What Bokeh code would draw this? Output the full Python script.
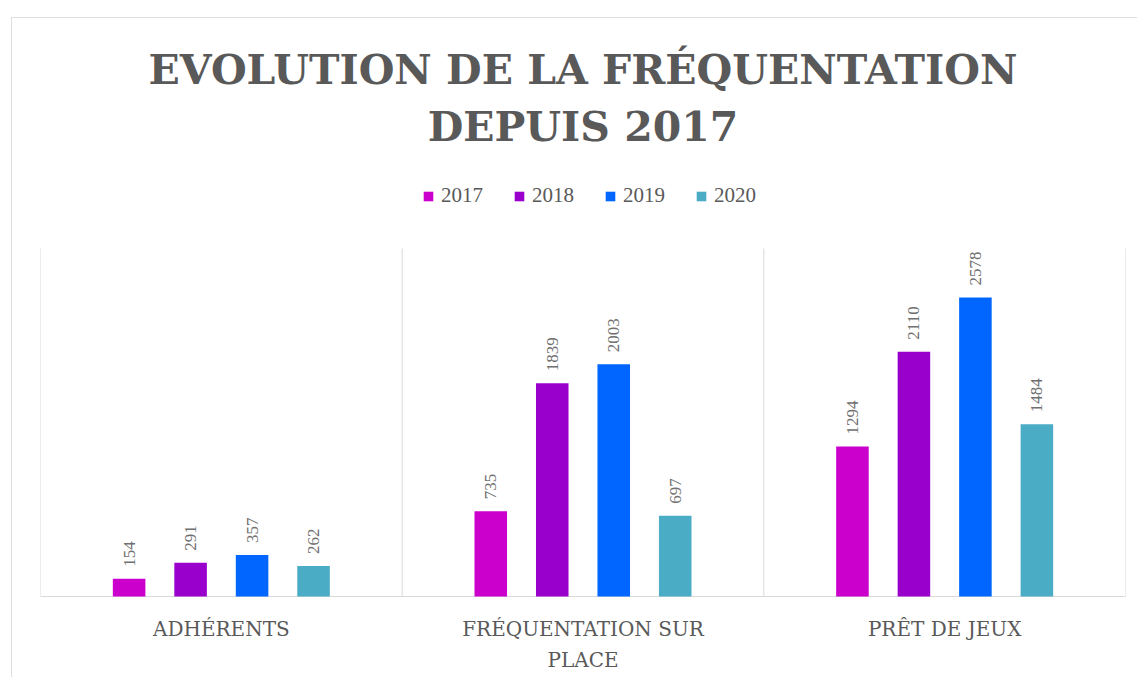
from math import pi
from bokeh.plotting import figure
from bokeh.models import (ColumnDataSource, FactorRange, Range1d, LabelSet, Label,
                          Legend, LegendItem)
from bokeh.transform import dodge
from bokeh.core.properties import value
from bokeh.embed import file_html
from bokeh.resources import INLINE

categories = ["ADHÉRENTS", "FRÉQUENTATION SUR PLACE", "PRÊT DE JEUX"]
category_labels = ["ADHÉRENTS", "FRÉQUENTATION SUR\nPLACE", "PRÊT DE JEUX"]
years = ["2017", "2018", "2019", "2020"]
v2017 = [154, 735, 1294]
v2018 = [291, 1839, 2110]
v2019 = [357, 2003, 2578]
v2020 = [262, 697, 1484]
colors = ["#CC00CC", "#9900CC", "#0066FF", "#4BACC6"]
title_lines = ["EVOLUTION DE LA FRÉQUENTATION", "DEPUIS 2017"]

Y_MAX = 3000  # value at the top of the bar area

series = [v2017, v2018, v2019, v2020]
src = ColumnDataSource(data=dict(
    cat=categories,
    label=category_labels,
    zero=[0] * len(categories),
    **{f"y{y}": s for y, s in zip(years, series)},
    **{f"t{y}": [str(v) for v in s] for y, s in zip(years, series)},
))

GRAY = "#595959"
LINE = "#d9d9d9"

# layout (pixels inside the canvas)
W, H = 1126, 660
FRAME_L, FRAME_R = 28, 13
BASE_PX = 578          # baseline distance from canvas top
BAR_PX = 348           # height of the bar area (0..Y_MAX)
ppu = BAR_PX / Y_MAX
y_end = BASE_PX / ppu
y_start = -(H - BASE_PX) / ppu

p = figure(x_range=FactorRange(factors=categories, range_padding=0),
           y_range=Range1d(y_start, y_end),
           width=W, height=H,
           min_border=0, min_border_left=FRAME_L, min_border_right=FRAME_R,
           x_axis_location=None, y_axis_location=None, title_location=None,
           output_backend="svg", toolbar_location=None,
           margin=(17, 0, 0, 11))
p.styles = {"border-left": "1px solid #dedede", "border-top": "1px solid #dedede"}

p.outline_line_color = None
p.grid.grid_line_color = None
p.background_fill_color = "white"
p.border_fill_color = "white"

n = len(categories)
# category separators and baseline
p.segment(x0=list(range(n + 1)), y0=[0] * (n + 1), x1=list(range(n + 1)),
          y1=[Y_MAX] * (n + 1), line_color=LINE, line_width=1)
p.segment(x0=[0], y0=[0], x1=[n], y1=[0], line_color=LINE, line_width=1.2)

offsets = [-0.255, -0.085, 0.085, 0.255]
items = []
for y, off, c in zip(years, offsets, colors):
    r = p.vbar(x=dodge("cat", off, range=p.x_range), top=f"y{y}", width=0.09,
               source=src, fill_color=c, line_color=None)
    items.append(LegendItem(label=y, renderers=[r]))
    p.add_layout(LabelSet(x=dodge("cat", off, range=p.x_range), y=f"y{y}", text=f"t{y}",
                          source=src, angle=pi / 2, text_align="left",
                          text_baseline="middle", y_offset=12,
                          text_font=value("Liberation Serif"), text_font_size="17px",
                          text_color="#707070"))

# category labels
p.text(x="cat", y="zero", text="label", source=src, text_align="center",
       text_baseline="top", y_offset=20, text_font=value("DejaVu Serif"),
       text_font_size="20px", text_color=GRAY, text_line_height=1.3)

legend = Legend(items=items, orientation="horizontal", location=(382, 470),
                label_text_font="Liberation Serif", label_text_font_size="21px",
                label_text_color=GRAY, glyph_width=12, glyph_height=12,
                label_standoff=7, spacing=30, padding=0, margin=0,
                border_line_color=None, background_fill_alpha=0)
p.add_layout(legend, "center")

for line, page_y in zip(title_lines, [69, 126]):
    p.add_layout(Label(x=n / 2, y=(BASE_PX + 18 - page_y) / ppu, text=line,
                       text_align="center", text_baseline="middle",
                       text_font="DejaVu Serif", text_font_style="bold",
                       text_font_size="41px", text_color=GRAY))

open("out.html", "w").write(file_html(p, INLINE))
